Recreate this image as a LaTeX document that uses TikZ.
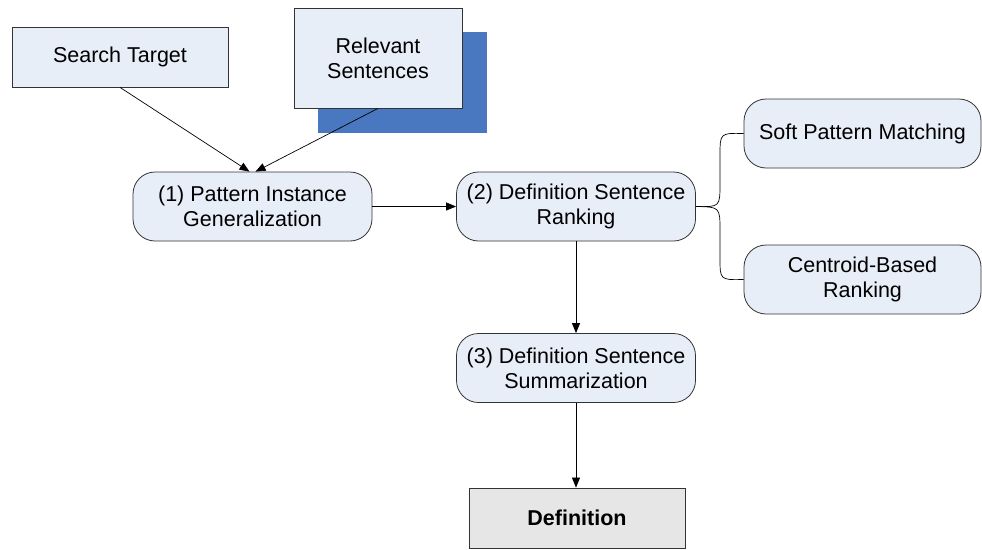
\documentclass[tikz,border=0pt]{standalone}
\usepackage{fontspec}
\setmainfont{Liberation Sans}
\usetikzlibrary{arrows.meta}
\definecolor{boxfill}{HTML}{E8EEF8}
\definecolor{shadowblue}{HTML}{4A78C0}
\definecolor{defgray}{HTML}{E6E6E6}
\definecolor{edge}{HTML}{333333}
\tikzset{
  base/.style={draw=edge, line width=0.8pt, fill=boxfill, align=center, inner sep=0pt,
    font=\fontsize{21.5}{25}\selectfont},
  sqbox/.style={base},
  rbox/.style={base, rounded corners=22pt, minimum width=239pt, minimum height=69pt},
  conn/.style={draw=black, line width=0.7pt},
  arr/.style={conn, -{Triangle[length=10pt,width=8pt]}},
}
\begin{document}
\begin{tikzpicture}[x=1pt,y=-1pt]
\useasboundingbox (0,0) rectangle (982,549);
% shadow
\node[fill=shadowblue, minimum width=169pt, minimum height=101pt, inner sep=0pt] (sh) at (402.5,82.5) {};
\node[sqbox, minimum width=216pt, minimum height=60pt] (st) at (120,57) {Search Target};
\node[sqbox, minimum width=168pt, minimum height=100pt] (rs) at (378,58) {Relevant\\Sentences};
\node[rbox] (n1) at (252.5,206.5) {(1) Pattern Instance\\Generalization};
\node[rbox] (n2) at (576,206.5) {(2) Definition Sentence\\Ranking};
\node[rbox, minimum width=237pt] (sp) at (862.5,133.5) {Soft Pattern Matching};
\node[rbox, minimum width=237pt] (cb) at (862.5,279.5) {Centroid-Based\\Ranking};
\node[rbox] (n3) at (576,368) {(3) Definition Sentence\\Summarization};
\node[sqbox, fill=defgray, minimum width=216pt, minimum height=60pt, font=\fontsize{21.5}{25}\selectfont\bfseries] (df) at (577,518) {Definition};
% connectors
\draw[arr] (st.south) -- ([xshift=-3pt]n1.north);
\draw[arr] (rs.south) -- ([xshift=3pt]n1.north);
\draw[arr] (n1.east) -- (n2.west);
\draw[arr] (n2.south) -- (n3.north);
\draw[arr] (n3.south) -- ([xshift=-1pt]df.north);
\draw[conn] (n2.east) .. controls (720,207) .. (720,183) -- (720,156) .. controls (720,133) .. (sp.west);
\draw[conn] (n2.east) .. controls (720,207) .. (720,231) -- (720,258) .. controls (720,280) .. (cb.west);
\end{tikzpicture}
\end{document}
